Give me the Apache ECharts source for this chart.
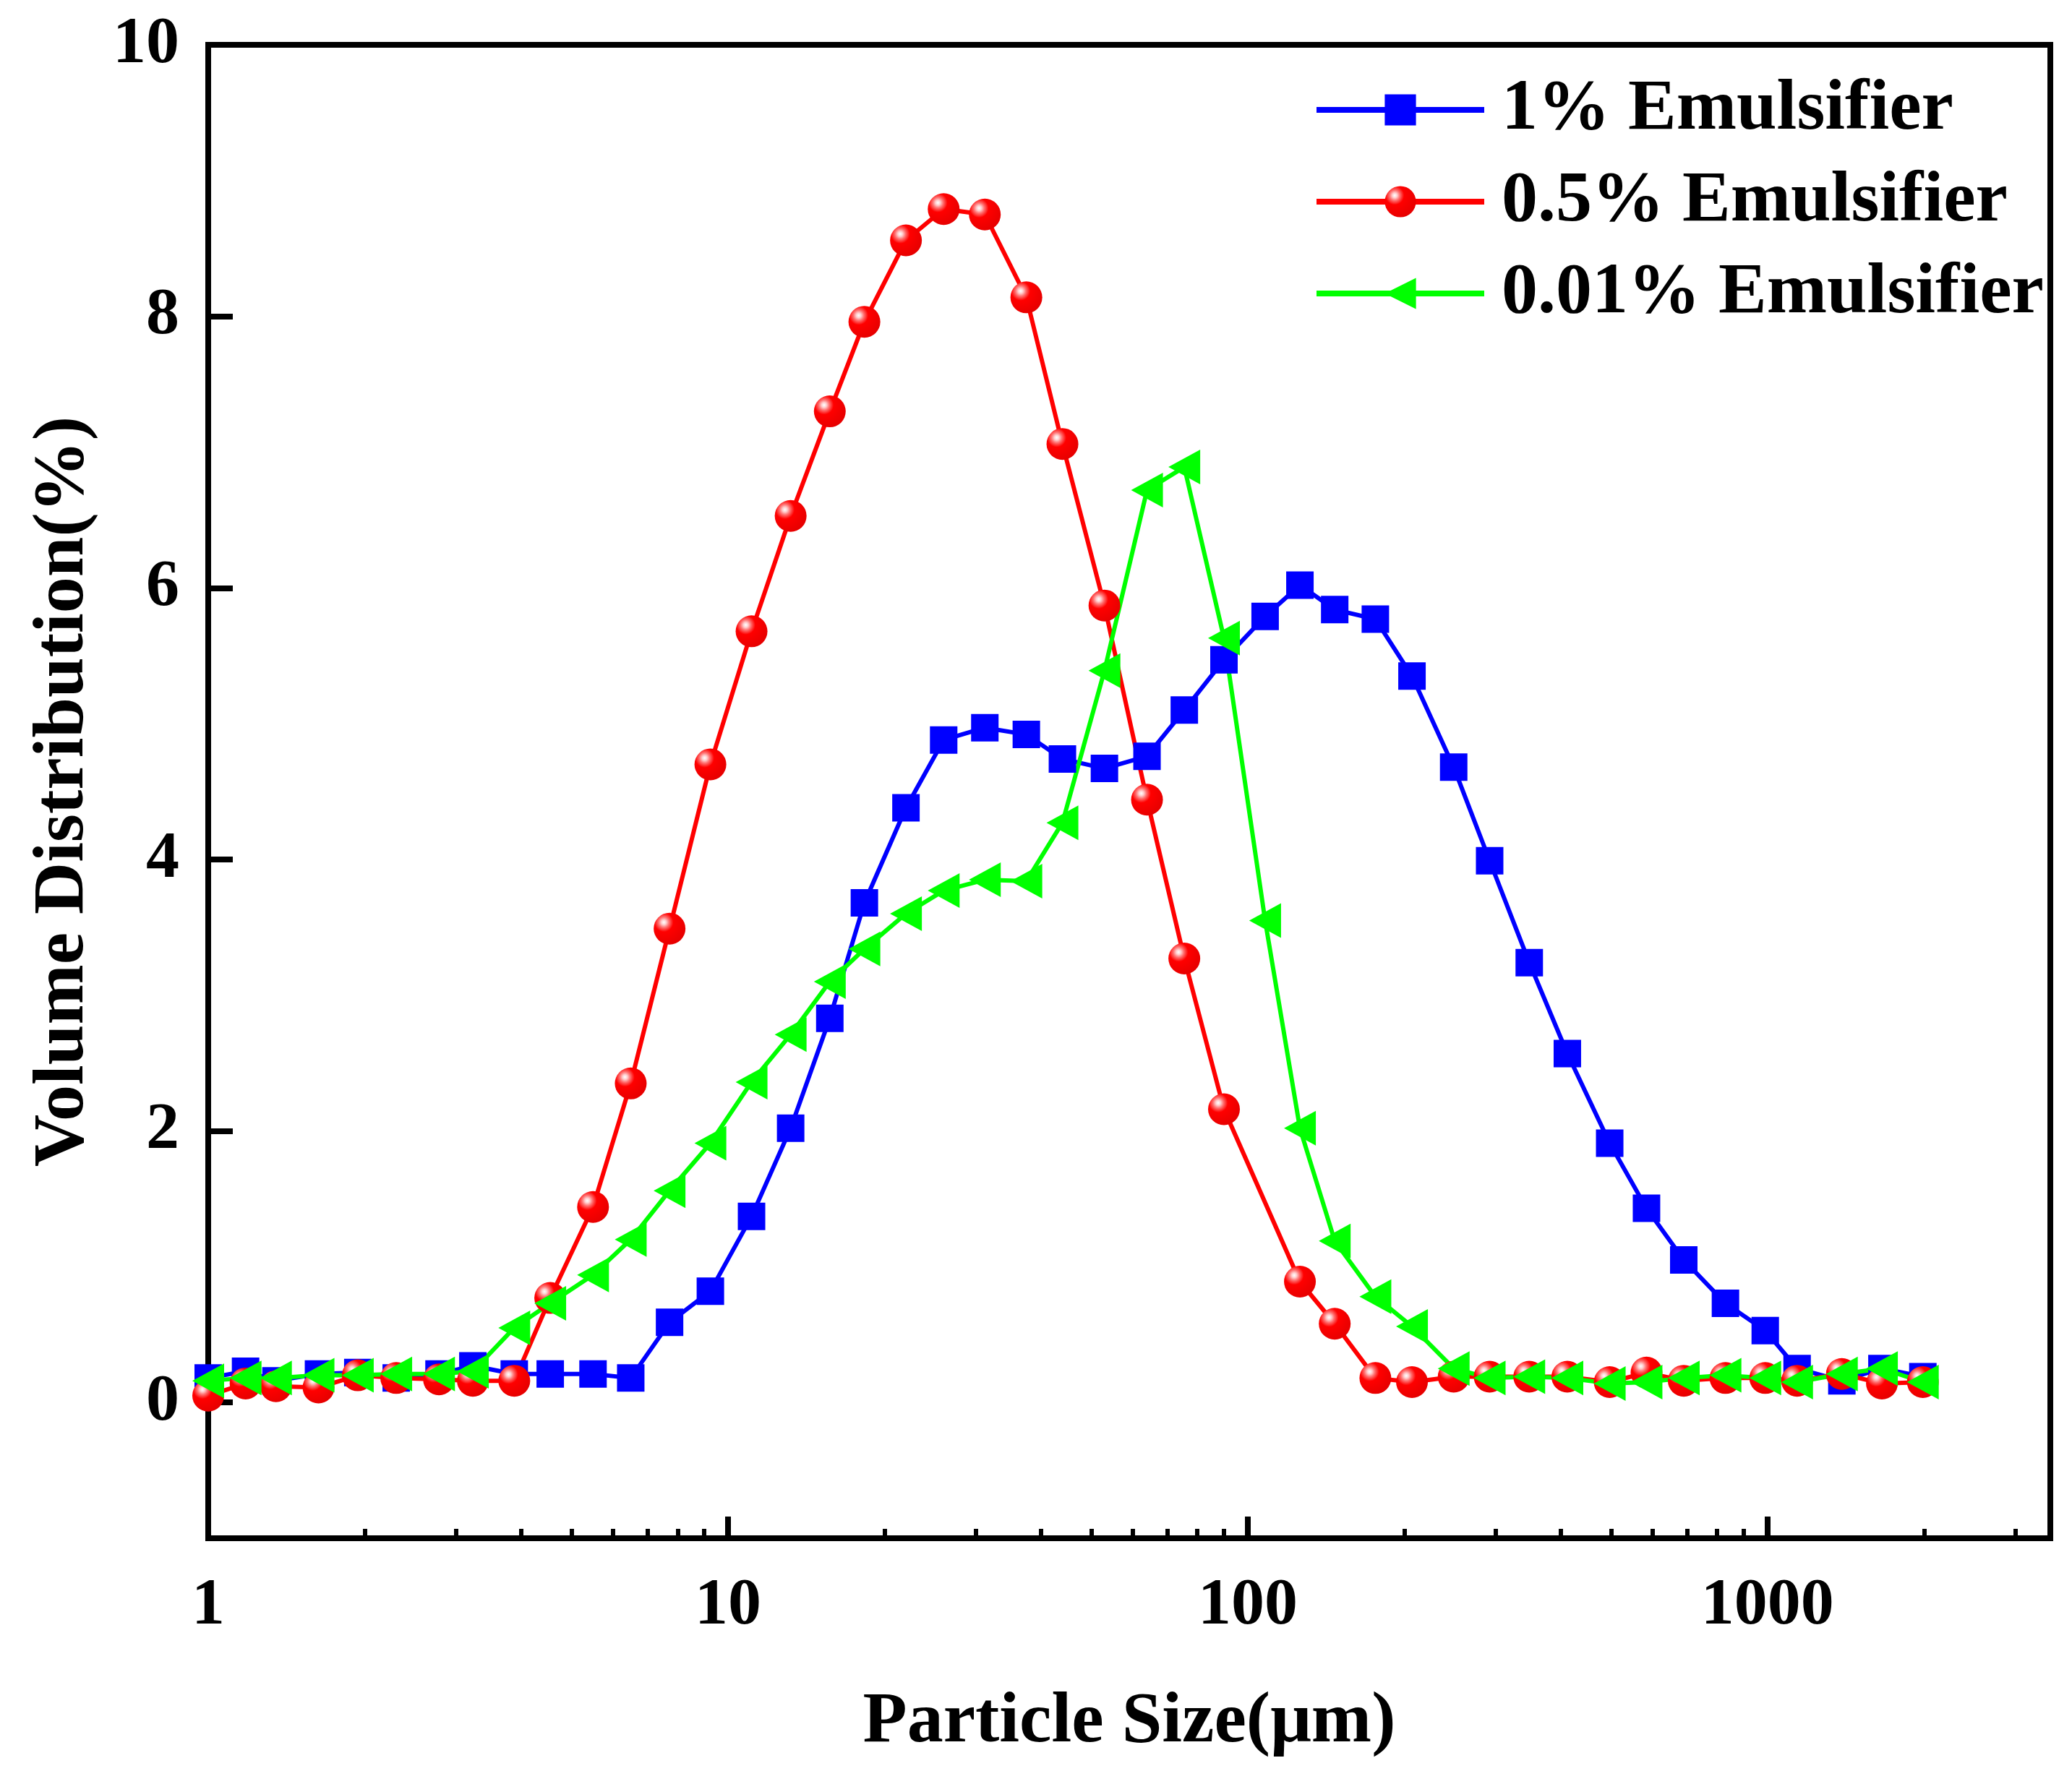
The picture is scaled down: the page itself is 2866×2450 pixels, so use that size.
<!DOCTYPE html>
<html>
<head>
<meta charset="utf-8">
<script src="https://cdn.jsdelivr.net/npm/echarts@6/dist/echarts.min.js"></script>
<style>
  html, body { margin: 0; padding: 0; background: #fff; }
  #chart { width: 2866px; height: 2450px; }
</style>
</head>
<body>
<div id="chart"></div>
<script>
// particle size bins (um), shared by the three curves
const sizes = [1.0, 1.18, 1.35, 1.63, 1.94, 2.3, 2.78, 3.23, 3.88, 4.55, 5.5, 6.5, 7.72, 9.25, 11.1,
  13.2, 15.7, 18.3, 22.0, 26.0, 31.2, 37.5, 44.0, 53.0, 64.0, 75.5, 90, 108, 126, 147,
  176, 207, 249, 292, 348, 412, 497, 585, 690, 830, 990, 1140, 1390, 1660, 1990];

// volume distribution (%)
const emul1 = [0.18, 0.23, 0.16, 0.21, 0.22, 0.18, 0.21, 0.27, 0.21, 0.21, 0.21, 0.18, 0.59, 0.82, 1.37,
  2.02, 2.83, 3.68, 4.38, 4.88, 4.97, 4.92, 4.74, 4.67, 4.76, 5.10, 5.47, 5.79, 6.02, 5.84,
  5.77, 5.35, 4.68, 3.99, 3.24, 2.57, 1.91, 1.43, 1.05, 0.73, 0.53, 0.25, 0.16, 0.25, 0.19];
const emul05 = [0.05, 0.14, 0.12, 0.11, 0.20, 0.18, 0.17, 0.16, 0.16, 0.77, 1.44, 2.35, 3.49, 4.70, 5.68,
  6.53, 7.30, 7.96, 8.56, 8.79, 8.75, 8.14, 7.06, 5.87, 4.44, 3.27, 2.16, null, 0.89, 0.58,
  0.18, 0.15, 0.19, 0.19, 0.19, 0.19, 0.15, 0.22, 0.16, 0.18, 0.18, 0.16, 0.21, 0.14, 0.15];
const emul001 = [0.16, 0.18, 0.18, 0.20, 0.20, 0.21, 0.21, 0.23, 0.55, 0.73, 0.94, 1.20, 1.56, 1.91, 2.36,
  2.71, 3.10, 3.34, 3.60, 3.77, 3.85, 3.84, 4.27, 5.39, 6.72, 6.89, 5.63, 3.55, 2.02, 1.19,
  0.78, 0.56, 0.25, 0.18, 0.19, 0.18, 0.14, 0.15, 0.18, 0.20, 0.18, 0.15, 0.21, 0.25, 0.15];

const seriesNames = ['1% Emulsifier', '0.5% Emulsifier', '0.01% Emulsifier'];

const xMajorTicks = [1, 10, 100, 1000];
const xMinorTicks = [2, 3, 4, 5, 6, 7, 8, 9, 20, 30, 40, 50, 60, 70, 80, 90,
  200, 300, 400, 500, 600, 700, 800, 900, 2000, 3000];
const yTicks = [0, 2, 4, 6, 8, 10];

const font = "'Liberation Serif', 'Times New Roman', serif";

function pairs(vals) {
  return sizes.map((s, i) => [s, vals[i]]).filter(p => p[1] !== null);
}

const chart = echarts.init(document.getElementById('chart'));

const redBall = new echarts.graphic.RadialGradient(0.32, 0.3, 0.75, [
  { offset: 0, color: '#ffffff' },
  { offset: 0.1, color: '#ffd0d0' },
  { offset: 0.22, color: '#ff7070' },
  { offset: 0.4, color: '#ff0000' },
  { offset: 1, color: '#e60000' }
]);

let option = {
  backgroundColor: '#fff',
  animation: false,
  grid: {
    left: 288, right: 30, top: 62, bottom: 322,
    show: true, borderColor: '#000', borderWidth: 8
  },
  legend: {
    orient: 'vertical',
    left: 1812,
    top: 92,
    itemWidth: 232,
    itemHeight: 54,
    itemGap: 17,
    lineStyle: { width: 8 },
    textStyle: {
      fontFamily: font, fontWeight: 'bold', fontSize: 100, color: '#000',
      lineHeight: 110, padding: [0, 0, 0, 19]
    },
    data: seriesNames
  },
  xAxis: [
    {
      type: 'log', logBase: 10, min: 1, max: 3500,
      name: 'Particle Size(\u03bcm)',
      nameLocation: 'middle',
      nameGap: 205,
      nameTextStyle: { fontFamily: font, fontWeight: 'bold', fontSize: 100, color: '#000' },
      axisLine: { show: true, onZero: false, lineStyle: { color: '#000', width: 8 } },
      axisTick: { inside: true, length: 30, lineStyle: { width: 8, color: '#000' }, customValues: xMajorTicks },
      axisLabel: {
        customValues: xMajorTicks, margin: 48,
        formatter: v => String(Math.round(v)),
        fontFamily: font, fontWeight: 'bold', fontSize: 92, color: '#000'
      },
      splitLine: { show: false },
      minorTick: { show: false }
    },
    {
      type: 'log', logBase: 10, min: 1, max: 3500,
      position: 'bottom',
      axisLine: { show: false, onZero: false },
      axisTick: { inside: true, length: 13, lineStyle: { width: 6, color: '#000' }, customValues: xMinorTicks },
      axisLabel: { show: false },
      splitLine: { show: false }
    }
  ],
  yAxis: {
    type: 'value', min: -1, max: 10,
    name: 'Volume Distribution(%)',
    nameLocation: 'middle',
    nameGap: 150,
    nameTextStyle: { fontFamily: font, fontWeight: 'bold', fontSize: 100, color: '#000' },
    axisLine: { show: true, onZero: false, lineStyle: { color: '#000', width: 8 } },
    axisTick: { inside: true, length: 34, lineStyle: { width: 8, color: '#000' }, customValues: yTicks },
    axisLabel: {
      customValues: yTicks, margin: 40,
      fontFamily: font, fontWeight: 'bold', fontSize: 92, color: '#000'
    },
    splitLine: { show: false }
  },
  series: [
    {
      name: seriesNames[0],
      type: 'line',
      data: pairs(emul1),
      symbol: 'rect',
      symbolSize: 38,
      lineStyle: { color: '#0000ff', width: 6 },
      itemStyle: { color: '#0000ff' }
    },
    {
      name: seriesNames[1],
      type: 'line',
      data: pairs(emul05),
      symbol: 'circle',
      symbolSize: 44,
      lineStyle: { color: '#ff0000', width: 6 },
      itemStyle: { color: redBall }
    },
    {
      name: seriesNames[2],
      type: 'line',
      data: pairs(emul001),
      symbol: 'triangle',
      symbolRotate: 90,
      symbolSize: [48, 44],
      lineStyle: { color: '#00ff00', width: 6 },
      itemStyle: { color: '#00ff00' }
    }
  ]
};

chart.setOption(option);
</script>
</body>
</html>
